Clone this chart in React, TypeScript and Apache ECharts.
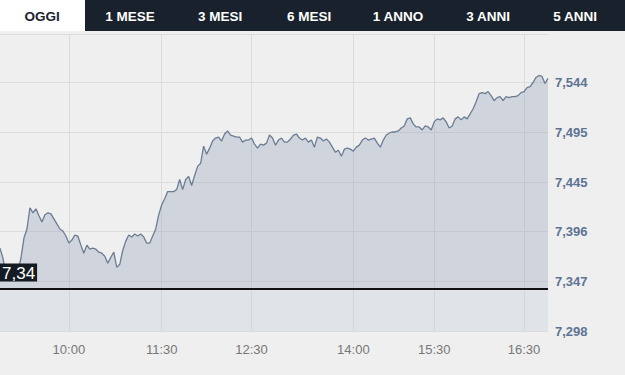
import React, { useEffect, useRef } from "react";
import * as echarts from "echarts";

// price series (intraday, equally spaced samples)
const prices: number[] = [
  7.380, 7.370, 7.354, 7.348, 7.351, 7.353, 7.358, 7.370, 7.390, 7.399,
  7.420, 7.415, 7.419, 7.412, 7.406, 7.413, 7.415, 7.414, 7.409, 7.404,
  7.399, 7.397, 7.392, 7.385, 7.388, 7.393, 7.392, 7.383, 7.375, 7.383,
  7.379, 7.380, 7.379, 7.376, 7.375, 7.372, 7.365, 7.371, 7.376, 7.361,
  7.364, 7.378, 7.387, 7.393, 7.391, 7.394, 7.392, 7.394, 7.391, 7.385,
  7.385, 7.392, 7.399, 7.413, 7.423, 7.429, 7.436, 7.436, 7.436, 7.438,
  7.448, 7.438, 7.448, 7.451, 7.442, 7.452, 7.461, 7.464, 7.481, 7.473,
  7.479, 7.486, 7.489, 7.490, 7.486, 7.493, 7.496, 7.492, 7.491, 7.490,
  7.490, 7.485, 7.487, 7.487, 7.489, 7.483, 7.479, 7.483, 7.482, 7.484,
  7.492, 7.489, 7.482, 7.487, 7.489, 7.485, 7.485, 7.488, 7.492, 7.493,
  7.489, 7.487, 7.489, 7.485, 7.487, 7.480, 7.490, 7.489, 7.486, 7.488,
  7.485, 7.480, 7.475, 7.477, 7.471, 7.478, 7.479, 7.478, 7.476, 7.480,
  7.482, 7.487, 7.489, 7.487, 7.488, 7.489, 7.484, 7.480, 7.487, 7.492,
  7.494, 7.495, 7.495, 7.496, 7.499, 7.501, 7.508, 7.509, 7.503, 7.500,
  7.500, 7.497, 7.501, 7.500, 7.497, 7.505, 7.508, 7.507, 7.509, 7.505,
  7.499, 7.501, 7.508, 7.510, 7.507, 7.510, 7.508, 7.513, 7.518, 7.525,
  7.533, 7.534, 7.533, 7.535, 7.531, 7.526, 7.529, 7.530, 7.526, 7.530,
  7.529, 7.530, 7.530, 7.531, 7.534, 7.535, 7.539, 7.540, 7.544, 7.549,
  7.551, 7.550, 7.543, 7.548,
];

const xTickIndex: number[] = [23, 54, 84, 118, 145, 175];
const xTickLabels: string[] = ["10:00", "11:30", "12:30", "14:00", "15:30", "16:30"];
const yTickLabels: string[] = ["7,298", "7,347", "7,396", "7,445", "7,495", "7,544"];
const yMin = 7.298;
const yStep = 0.04916;
const yMax = 7.592;
const prevClose = 7.34;
const prevCloseLabel = "7,34";
const tabs: string[] = ["OGGI", "1 MESE", "3 MESI", "6 MESI", "1 ANNO", "3 ANNI", "5 ANNI"];

export default function App() {
  const ref = useRef<HTMLDivElement>(null);
  useEffect(() => {
    if (!ref.current) return;
    const chart = echarts.init(ref.current, null, { renderer: "svg" });
    const categories = prices.map((_, i) => String(i));
    const tabCenters = [42, 130, 220, 309, 398, 488, 575];
    const font = "'Liberation Sans', Arial, sans-serif";
    const showIdx = (i: number) => xTickIndex.indexOf(i) >= 0;

    const graphics: any[] = [
      { type: "rect", shape: { x: 0, y: 0, width: 625, height: 31 }, style: { fill: "#18212c" }, z: 100 },
      { type: "rect", shape: { x: 0, y: 0, width: 85, height: 31 }, style: { fill: "#ffffff" }, z: 101 },
    ];
    tabs.forEach((t, i) => {
      graphics.push({
        type: "text",
        x: tabCenters[i],
        y: 16,
        z: 102,
        style: {
          text: t,
          fill: i === 0 ? "#1b2330" : "#ffffff",
          font: `bold 13.5px ${font}`,
          textAlign: "center",
          textVerticalAlign: "middle",
        },
      });
    });

    chart.setOption({
      animation: false,
      backgroundColor: "#efefef",
      textStyle: { fontFamily: font },
      grid: { left: 0, right: 77, top: 34, bottom: 44, containLabel: false },
      xAxis: {
        type: "category",
        data: categories,
        boundaryGap: false,
        axisLine: { show: false },
        axisTick: { show: false },
        axisLabel: {
          interval: (i: number) => showIdx(i),
          formatter: (_v: string, i: number) => {
            const k = xTickIndex.indexOf(i);
            return k >= 0 ? xTickLabels[k] : "";
          },
          color: "#777777",
          fontSize: 13,
          margin: 12,
          fontFamily: font,
        },
        splitLine: {
          show: true,
          interval: (i: number) => showIdx(i),
          lineStyle: { color: "#dcdcdc", width: 1 },
        },
      },
      yAxis: {
        type: "value",
        position: "right",
        min: yMin,
        max: yMax,
        interval: yStep,
        axisLine: { show: false },
        axisTick: { show: false },
        axisLabel: {
          formatter: (_v: number, i: number) => (i < yTickLabels.length ? yTickLabels[i] : ""),
          color: "#5d7393",
          fontWeight: "bold",
          fontSize: 13,
          margin: 7,
          fontFamily: font,
        },
        splitLine: { show: true, lineStyle: { color: "#dcdcdc", width: 1 } },
      },
      series: [
        {
          type: "line",
          data: prices,
          showSymbol: false,
          symbol: "none",
          lineStyle: { color: "#6b7c93", width: 1.3 },
          areaStyle: { origin: prevClose, color: "rgba(145,162,185,0.47)" },
          markArea: {
            silent: true,
            itemStyle: { color: "rgba(190,200,212,0.3)" },
            data: [[{ yAxis: yMin }, { yAxis: prevClose }]],
          },
          markLine: {
            silent: true,
            symbol: "none",
            lineStyle: { color: "#111111", width: 2, type: "solid" },
            label: {
              show: true,
              position: "insideStartTop",
              formatter: prevCloseLabel,
              color: "#ffffff",
              backgroundColor: "#141b23",
              fontSize: 17,
              padding: [1, 2, 0, 2],
              distance: [0, 7],
              fontFamily: font,
            },
            data: [{ yAxis: prevClose }],
          },
        },
      ],
      graphic: graphics,
    });
    return () => chart.dispose();
  }, []);
  return (
    <div
      ref={ref}
      style={{ position: "fixed", left: 0, top: 0, width: 625, height: 375 }}
    />
  );
}
